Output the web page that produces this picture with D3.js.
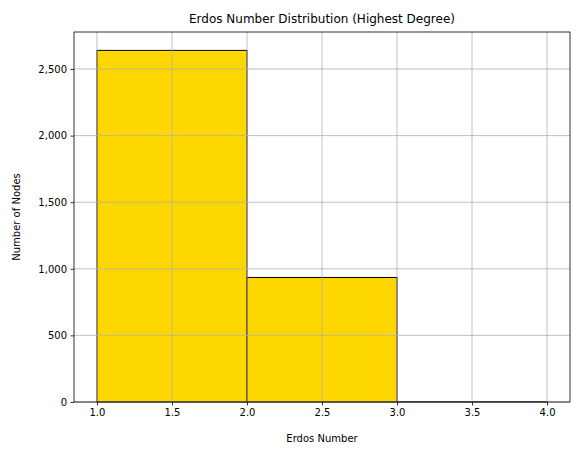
<!DOCTYPE html>
<html><head><meta charset="utf-8">
<script src="https://cdn.jsdelivr.net/npm/d3@7"></script>
<style>body{margin:0;background:#fff}text{font-family:"DejaVu Sans",sans-serif}</style>
</head><body>
<svg id="chart" width="580" height="455"></svg>
<script>
const binStarts = [1, 2, 3];
const binEnds = [2, 3, 4];
const counts = [2640, 935, 2];
const xTicks = [1.0, 1.5, 2.0, 2.5, 3.0, 3.5, 4.0];
const yTicks = [0, 500, 1000, 1500, 2000, 2500];

const svg = d3.select("#chart");
const mLeft = 74, mRight = 570, mTop = 32, mBottom = 402;

const x = d3.scaleLinear().domain([0.847, 4.153]).range([mLeft, mRight]);
const y = d3.scaleLinear().domain([0, 2778]).range([mBottom, mTop]);

// bars
svg.selectAll("rect.bar")
  .data(counts)
  .enter().append("rect")
  .attr("class", "bar")
  .attr("x", (d, i) => x(binStarts[i]))
  .attr("width", (d, i) => x(binEnds[i]) - x(binStarts[i]))
  .attr("y", d => y(d))
  .attr("height", d => y(0) - y(d))
  .attr("fill", "gold")
  .attr("stroke", "black")
  .attr("stroke-width", 1);

// grid on top of bars
svg.selectAll("line.gx").data(xTicks).enter().append("line")
  .attr("x1", d => x(d)).attr("x2", d => x(d))
  .attr("y1", mTop).attr("y2", mBottom)
  .attr("stroke", "#b0b0b0").attr("stroke-width", 0.8);
svg.selectAll("line.gy").data(yTicks).enter().append("line")
  .attr("x1", mLeft).attr("x2", mRight)
  .attr("y1", d => y(d)).attr("y2", d => y(d))
  .attr("stroke", "#b0b0b0").attr("stroke-width", 0.8);

// axes
const xAxis = svg.append("g").attr("transform", `translate(0,${mBottom})`)
  .call(d3.axisBottom(x).tickValues(xTicks).tickFormat(d3.format(".1f")).tickSize(3.5).tickPadding(3.5));
const yAxis = svg.append("g").attr("transform", `translate(${mLeft},0)`)
  .call(d3.axisLeft(y).tickValues(yTicks).tickSize(3.5).tickPadding(3.5));
[xAxis, yAxis].forEach(a => {
  a.select(".domain").remove();
  a.selectAll("text").attr("font-size", 10).attr("fill", "#000");
  a.selectAll("line").attr("stroke", "#000").attr("stroke-width", 0.8);
});

svg.append("rect").attr("x", mLeft).attr("y", mTop)
  .attr("width", mRight - mLeft).attr("height", mBottom - mTop)
  .attr("fill", "none").attr("stroke", "#000").attr("stroke-width", 0.8);

svg.append("text").attr("x", (mLeft + mRight) / 2).attr("y", mTop - 9)
  .attr("text-anchor", "middle").attr("font-size", 12)
  .text("Erdos Number Distribution (Highest Degree)");
svg.append("text").attr("x", (mLeft + mRight) / 2).attr("y", 442)
  .attr("text-anchor", "middle").attr("font-size", 10).text("Erdos Number");
svg.append("text").attr("transform", `translate(20,${(mTop + mBottom) / 2}) rotate(-90)`)
  .attr("text-anchor", "middle").attr("font-size", 10).text("Number of Nodes");
</script>
</body></html>
